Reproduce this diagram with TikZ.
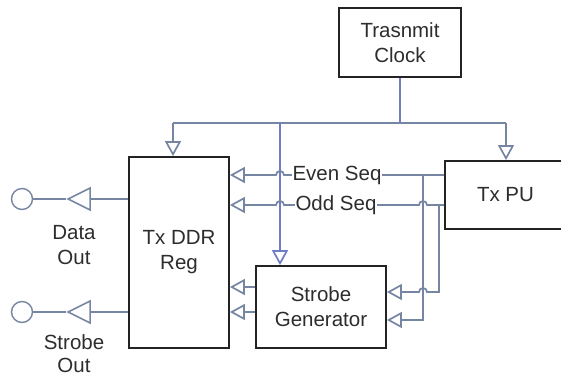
\documentclass[tikz,border=0pt]{standalone}
\usepackage{fontspec}
\setmainfont{Liberation Sans}
\usetikzlibrary{arrows.meta,shapes.geometric}
\definecolor{conncol}{RGB}{118,134,162}
\definecolor{clkcol}{RGB}{112,124,196}
\definecolor{boxcol}{RGB}{35,35,35}
\definecolor{txtcol}{RGB}{45,45,45}
\begin{document}
\begin{tikzpicture}[x=1pt,y=-1pt,
  font=\fontsize{20.5}{25}\selectfont,
  blk/.style={draw=boxcol,line width=1.8pt,fill=white,inner sep=0pt,text=txtcol,align=center},
  conn/.style={draw=conncol,line width=1.7pt},
  clkline/.style={draw=clkcol,line width=1.7pt},
  intip/.style={-{Triangle[length=15pt,width=16pt,fill=white]}},
  lbl/.style={text=txtcol,align=center,inner sep=1pt},
  buf/.style={isosceles triangle,isosceles triangle stretches,shape border rotate=180,
    minimum width=22pt,minimum height=22pt,draw=conncol,line width=1.6pt,inner sep=0pt,fill=white},
  circ/.style={circle,draw=conncol,line width=1.4pt,minimum size=21pt,inner sep=0pt,fill=white}]
\clip (0,0) rectangle (561,378);
\fill[white] (0,0) rectangle (561,378);

% blocks
\node[blk,minimum width=122pt,minimum height=69pt] (clock) at (400,42.5) {Trasnmit\\Clock};
\node[blk,minimum width=100pt,minimum height=191pt] (ddr) at (179,252.5) {Tx DDR\\Reg};
\node[blk,minimum width=121pt,minimum height=68pt] (txpu) at (505.5,195) {Tx PU};
\node[blk,minimum width=130pt,minimum height=82pt] (sg) at (321,307) {Strobe\\Generator};

% clock bus
\coordinate (bj) at (400,123);
\coordinate (bl) at (173,123);
\coordinate (br) at (506,123);
\coordinate (bm) at (280,123);
\draw[clkline] (clock.south) -- (bj);
\draw[conn] (bl) -- (br);
\draw[conn,intip] (bl) -- (ddr.north -| bl);
\draw[conn,intip] (br) -- (txpu.north -| br);
\draw[clkline,intip] (bm) -- (sg.north -| bm);

% even / odd sequences
\coordinate (ev) at (445,175);
\coordinate (od) at (445,205);
\draw[conn,intip] (txpu.west |- ev) -- (284,175) arc[start angle=0,end angle=180,radius=4pt] -- (ddr.east |- ev);
\draw[conn,intip] (txpu.west |- od) -- (427,205) arc[start angle=0,end angle=180,radius=4pt]
  -- (284,205) arc[start angle=0,end angle=180,radius=4pt] -- (ddr.east |- od);
\node[lbl,fill=white] (evl) at (337,175) {Even Seq};
\node[lbl,fill=white] (odl) at (336,205) {Odd Seq};

% feeds to strobe generator
\coordinate (v1) at (423,175);
\coordinate (v1b) at (423,320);
\coordinate (v2) at (439,205);
\coordinate (v2b) at (439,292);
\draw[conn,intip] (v1) -- (v1b) -- (sg.east |- v1b);
\draw[conn,intip] (v2) -- (v2b) -- (427,292) arc[start angle=0,end angle=180,radius=4pt] -- (sg.east |- v2b);

% strobe generator to DDR
\coordinate (s1) at (256,287);
\coordinate (s2) at (256,312);
\draw[conn,intip] (sg.west |- s1) -- (ddr.east |- s1);
\draw[conn,intip] (sg.west |- s2) -- (ddr.east |- s2);

% output buffers
\node[buf,anchor=apex] (dbuf) at (66,199) {};
\node[circ] (dcirc) at (22,199) {};
\draw[conn] (ddr.west |- dbuf.apex) -- (dbuf.lower side);
\draw[conn] (dbuf.apex) -- (dcirc.east);
\node[buf,anchor=apex] (sbuf) at (66,312) {};
\node[circ] (scirc) at (22,312) {};
\draw[conn] (ddr.west |- sbuf.apex) -- (sbuf.lower side);
\draw[conn] (sbuf.apex) -- (scirc.east);

\node[lbl] (dol) at (74,245) {Data\\Out};
\node[lbl,font=\fontsize{20.5}{23}\selectfont] (sol) at (74,354) {Strobe\\Out};
\end{tikzpicture}
\end{document}
